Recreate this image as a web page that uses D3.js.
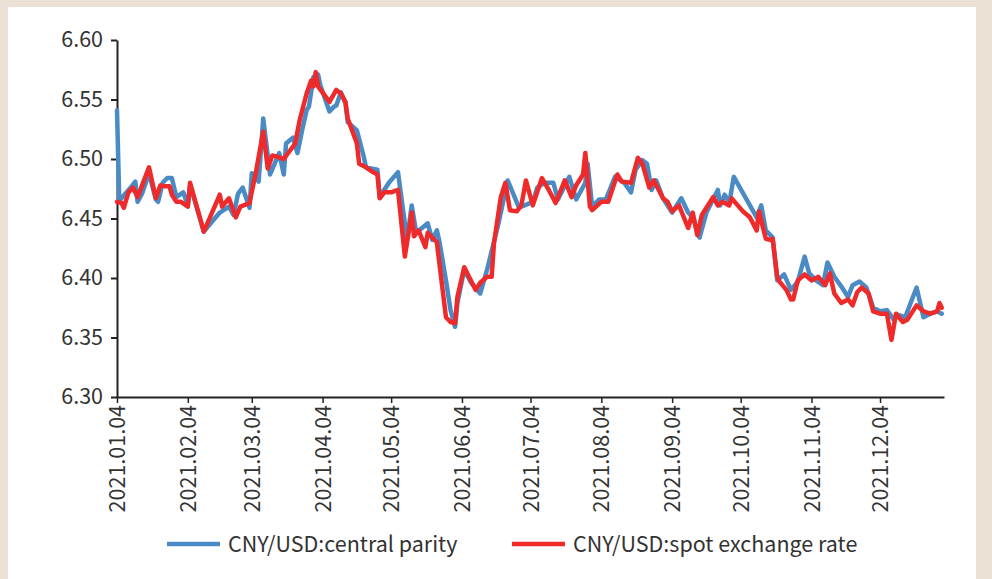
<!DOCTYPE html>
<html>
<head>
<meta charset="utf-8">
<script src="https://cdn.jsdelivr.net/npm/d3@7"></script>
<style>
  html, body { margin: 0; padding: 0; background: #ebe1d5; }
  svg { display: block; }
  text { font-family: "Noto Sans CJK SC", "Noto Sans", sans-serif; fill: #333; }
</style>
</head>
<body>
<svg id="chart"></svg>
<script>
// CNY/USD central parity (blue)
var parityDates = [
  '2021-01-04','2021-01-05','2021-01-10','2021-01-12','2021-01-13','2021-01-15','2021-01-18','2021-01-21',
  '2021-01-22','2021-01-24','2021-01-26','2021-01-28','2021-01-30','2021-02-02','2021-02-04','2021-02-05',
  '2021-02-11','2021-02-14','2021-02-18','2021-02-22','2021-02-24','2021-02-26','2021-02-28','2021-03-03',
  '2021-03-04','2021-03-07','2021-03-09','2021-03-12','2021-03-16','2021-03-18','2021-03-19','2021-03-22',
  '2021-03-24','2021-03-26','2021-03-28','2021-03-29','2021-03-31','2021-04-02','2021-04-03','2021-04-07',
  '2021-04-09','2021-04-10','2021-04-12','2021-04-14','2021-04-15','2021-04-19','2021-04-22','2021-04-23',
  '2021-04-28','2021-04-29','2021-05-03','2021-05-07','2021-05-09','2021-05-11','2021-05-13','2021-05-15',
  '2021-05-20','2021-05-22','2021-05-24','2021-05-25','2021-05-28','2021-05-30','2021-06-01','2021-06-02',
  '2021-06-05','2021-06-08','2021-06-12','2021-06-15','2021-06-20','2021-06-24','2021-06-29','2021-07-05',
  '2021-07-07','2021-07-10','2021-07-14','2021-07-16','2021-07-21','2021-07-24','2021-07-28','2021-07-29',
  '2021-07-31','2021-08-03','2021-08-06','2021-08-10','2021-08-14','2021-08-17','2021-08-19','2021-08-22',
  '2021-08-24','2021-08-26','2021-08-28','2021-08-31','2021-09-04','2021-09-08','2021-09-11','2021-09-13',
  '2021-09-16','2021-09-19','2021-09-24','2021-09-25','2021-09-27','2021-09-29','2021-10-01','2021-10-11',
  '2021-10-13','2021-10-15','2021-10-18','2021-10-20','2021-10-23','2021-10-26','2021-10-29','2021-11-01',
  '2021-11-03','2021-11-06','2021-11-09','2021-11-11','2021-11-14','2021-11-17','2021-11-20','2021-11-22',
  '2021-11-25','2021-11-28','2021-12-01','2021-12-04','2021-12-07','2021-12-10','2021-12-12','2021-12-15',
  '2021-12-20','2021-12-23','2021-12-26','2021-12-29','2021-12-31'
];
var parityValues = [
  6.541, 6.465, 6.476, 6.481, 6.464, 6.471, 6.488, 6.466,
  6.464, 6.480, 6.484, 6.484, 6.468, 6.472, 6.461, 6.478,
  6.439, 6.446, 6.455, 6.460, 6.453, 6.471, 6.476, 6.459,
  6.488, 6.481, 6.534, 6.487, 6.505, 6.487, 6.513, 6.518,
  6.505, 6.524, 6.541, 6.544, 6.569, 6.571, 6.562, 6.540,
  6.544, 6.545, 6.556, 6.547, 6.531, 6.524, 6.502, 6.493,
  6.491, 6.468, 6.480, 6.489, 6.460, 6.432, 6.461, 6.438,
  6.446, 6.432, 6.440, 6.432, 6.398, 6.373, 6.359, 6.379,
  6.407, 6.396, 6.387, 6.407, 6.446, 6.482, 6.459, 6.464,
  6.476, 6.480, 6.480, 6.466, 6.485, 6.466, 6.480, 6.496,
  6.460, 6.466, 6.466, 6.485, 6.480, 6.472, 6.491, 6.499,
  6.496, 6.474, 6.482, 6.467, 6.455, 6.467, 6.455, 6.451,
  6.434, 6.455, 6.474, 6.461, 6.470, 6.463, 6.485, 6.451,
  6.461, 6.440, 6.434, 6.398, 6.403, 6.390, 6.397, 6.418,
  6.404, 6.398, 6.394, 6.413, 6.401, 6.393, 6.384, 6.394,
  6.397, 6.392, 6.375, 6.372, 6.373, 6.365, 6.369, 6.367,
  6.392, 6.367, 6.370, 6.372, 6.370
];

// CNY/USD spot exchange rate (red)
var spotDates = [
  '2021-01-04','2021-01-06','2021-01-07','2021-01-09','2021-01-11','2021-01-13','2021-01-18','2021-01-21',
  '2021-01-23','2021-01-25','2021-01-27','2021-01-28','2021-01-30','2021-02-01','2021-02-04','2021-02-05',
  '2021-02-11','2021-02-18','2021-02-19','2021-02-22','2021-02-25','2021-02-27','2021-03-03','2021-03-06',
  '2021-03-09','2021-03-11','2021-03-13','2021-03-15','2021-03-18','2021-03-23','2021-03-25','2021-03-28',
  '2021-03-30','2021-03-31','2021-04-01','2021-04-02','2021-04-07','2021-04-10','2021-04-12','2021-04-14',
  '2021-04-15','2021-04-19','2021-04-20','2021-04-23','2021-04-26','2021-04-28','2021-04-29','2021-05-01',
  '2021-05-04','2021-05-07','2021-05-10','2021-05-13','2021-05-14','2021-05-16','2021-05-19','2021-05-20',
  '2021-05-24','2021-05-28','2021-05-30','2021-06-01','2021-06-02','2021-06-05','2021-06-10','2021-06-12',
  '2021-06-15','2021-06-17','2021-06-18','2021-06-21','2021-06-23','2021-06-25','2021-06-28','2021-06-30',
  '2021-07-02','2021-07-05','2021-07-09','2021-07-12','2021-07-15','2021-07-19','2021-07-22','2021-07-24',
  '2021-07-27','2021-07-28','2021-07-30','2021-07-31','2021-08-04','2021-08-07','2021-08-11','2021-08-13',
  '2021-08-17','2021-08-20','2021-08-22','2021-08-25','2021-08-27','2021-08-31','2021-09-02','2021-09-04',
  '2021-09-07','2021-09-11','2021-09-13','2021-09-15','2021-09-17','2021-09-22','2021-09-24','2021-09-26',
  '2021-09-29','2021-09-30','2021-10-05','2021-10-08','2021-10-11','2021-10-12','2021-10-15','2021-10-17',
  '2021-10-18','2021-10-20','2021-10-21','2021-10-24','2021-10-26','2021-10-27','2021-10-29','2021-11-01',
  '2021-11-04','2021-11-07','2021-11-10','2021-11-12','2021-11-14','2021-11-17','2021-11-20','2021-11-22',
  '2021-11-24','2021-11-26','2021-11-29','2021-12-01','2021-12-04','2021-12-07','2021-12-09','2021-12-11',
  '2021-12-14','2021-12-16','2021-12-20','2021-12-23','2021-12-26','2021-12-29','2021-12-30','2021-12-31'
];
var spotValues = [
  6.464, 6.463, 6.459, 6.472, 6.476, 6.468, 6.493, 6.467,
  6.478, 6.477, 6.477, 6.470, 6.464, 6.464, 6.460, 6.480,
  6.439, 6.470, 6.460, 6.467, 6.451, 6.460, 6.463, 6.491,
  6.523, 6.492, 6.503, 6.502, 6.500, 6.513, 6.533, 6.555,
  6.566, 6.561, 6.573, 6.561, 6.548, 6.558, 6.555, 6.548,
  6.534, 6.513, 6.496, 6.493, 6.489, 6.487, 6.467, 6.472,
  6.472, 6.474, 6.418, 6.455, 6.435, 6.440, 6.426, 6.438,
  6.430, 6.367, 6.363, 6.362, 6.384, 6.409, 6.390, 6.396,
  6.401, 6.401, 6.429, 6.468, 6.480, 6.457, 6.456, 6.461,
  6.482, 6.461, 6.484, 6.474, 6.463, 6.482, 6.468, 6.478,
  6.487, 6.505, 6.460, 6.457, 6.464, 6.464, 6.487, 6.481,
  6.480, 6.501, 6.496, 6.476, 6.482, 6.467, 6.464, 6.456,
  6.461, 6.442, 6.455, 6.436, 6.453, 6.468, 6.461, 6.464,
  6.461, 6.467, 6.456, 6.451, 6.440, 6.456, 6.433, 6.432,
  6.433, 6.401, 6.397, 6.390, 6.382, 6.382, 6.398, 6.403,
  6.398, 6.401, 6.394, 6.404, 6.387, 6.379, 6.382, 6.377,
  6.388, 6.392, 6.387, 6.372, 6.370, 6.370, 6.348, 6.370,
  6.363, 6.365, 6.377, 6.372, 6.370, 6.372, 6.379, 6.375
];

var yTicks = [6.30, 6.35, 6.40, 6.45, 6.50, 6.55, 6.60];
var xTicks = ['2021-01-04','2021-02-04','2021-03-04','2021-04-04','2021-05-04','2021-06-04',
              '2021-07-04','2021-08-04','2021-09-04','2021-10-04','2021-11-04','2021-12-04'];
var seriesNames = ['CNY/USD:central parity', 'CNY/USD:spot exchange rate'];
var seriesColors = ['#4a8ac5', '#ee2a2a'];

var W = 992, H = 579;
var parse = d3.timeParse('%Y-%m-%d');
var fmtTick = d3.timeFormat('%Y.%m.%d');

var svg = d3.select('#chart').attr('width', W).attr('height', H);

// white panel on beige frame
svg.append('rect').attr('x', 8).attr('y', 7).attr('width', 968).attr('height', H - 7).attr('fill', '#fff');

var x = d3.scaleTime()
    .domain([parse('2021-01-04'), parse('2022-01-01')])
    .range([117, 944]);
var y = d3.scaleLinear()
    .domain([6.30, 6.60])
    .range([397, 40]);

// y axis
var yAxis = svg.append('g')
    .attr('transform', 'translate(117,0)')
    .call(d3.axisLeft(y).tickValues(yTicks).tickFormat(d3.format('.2f')).tickSize(6).tickSizeOuter(0));
yAxis.select('.domain').attr('stroke', '#222').attr('stroke-width', 2);
yAxis.selectAll('.tick line').attr('stroke', '#222').attr('stroke-width', 2);
yAxis.selectAll('.tick text')
    .attr('x', -14)
    .style('font-size', '21.5px')
    .attr('fill', '#333');

// x axis
var xAxis = svg.append('g')
    .attr('transform', 'translate(0,397)')
    .call(d3.axisBottom(x).tickValues(xTicks.map(parse)).tickFormat(fmtTick).tickSize(6).tickSizeOuter(0));
xAxis.select('.domain').attr('stroke', '#222').attr('stroke-width', 2);
xAxis.selectAll('.tick line').attr('stroke', '#222').attr('stroke-width', 1.5);
xAxis.selectAll('.tick text')
    .attr('transform', 'rotate(-90)')
    .attr('text-anchor', 'end')
    .attr('x', -8)
    .attr('y', 0)
    .attr('dy', '0.35em')
    .style('font-size', '21.5px')
    .attr('fill', '#333');

// lines
var line = d3.line()
    .x(function (d) { return x(d[0]); })
    .y(function (d) { return y(d[1]); });

var series = [
    d3.zip(parityDates.map(parse), parityValues),
    d3.zip(spotDates.map(parse), spotValues)
];

svg.selectAll('path.series')
    .data(series)
    .enter()
    .append('path')
    .attr('class', 'series')
    .attr('d', line)
    .attr('fill', 'none')
    .attr('stroke', function (d, i) { return seriesColors[i]; })
    .attr('stroke-width', 4.5)
    .attr('stroke-linejoin', 'round')
    .attr('stroke-linecap', 'round');

// legend
var legendX = [167, 512];
var legend = svg.selectAll('g.legend')
    .data(seriesNames)
    .enter()
    .append('g')
    .attr('class', 'legend')
    .attr('transform', function (d, i) { return 'translate(' + legendX[i] + ',544)'; });

legend.append('line')
    .attr('x1', 0).attr('x2', 53)
    .attr('stroke', function (d, i) { return seriesColors[i]; })
    .attr('stroke-width', 4.5);

legend.append('text')
    .attr('x', 61)
    .attr('dy', '0.35em')
    .style('font-size', '21.5px')
    .text(function (d) { return d; });
</script>
</body>
</html>
